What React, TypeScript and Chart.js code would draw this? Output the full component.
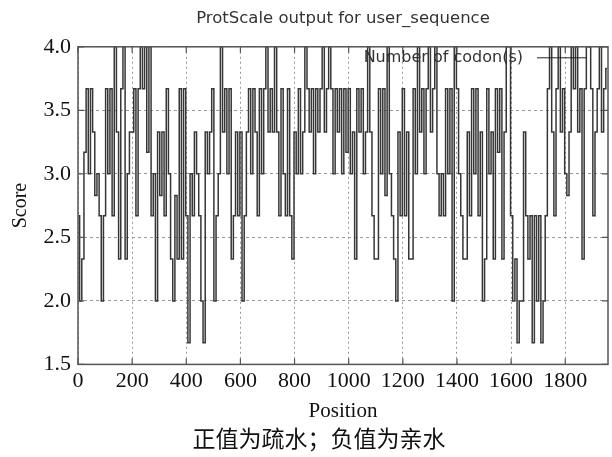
import { useEffect, useRef } from 'react';
import { Chart, registerables } from 'chart.js';

Chart.register(...registerables);

// Sequence positions are sampled every SAMPLE_STEP residues
const SAMPLE_STEP = 8;
const SEQ_LENGTH = 1958;

// Scores (window average of codon counts)
const scores: number[] = [
  2.67, 2.0, 2.33, 3.17, 3.67, 3.0, 3.67, 3.33, 2.83, 3.0,
  2.67, 2.0, 2.67, 3.67, 3.0, 3.67, 2.67, 4.0, 3.33, 2.33,
  3.67, 4.0, 2.33, 3.0, 3.33, 3.33, 3.67, 2.67, 3.67, 4.0,
  3.67, 4.0, 3.17, 4.0, 2.67, 3.0, 2.0, 3.33, 2.83, 3.33,
  2.67, 3.67, 3.0, 2.33, 2.0, 2.83, 2.33, 3.67, 2.33, 3.67,
  2.67, 1.67, 3.0, 2.67, 3.33, 3.0, 2.67, 2.0, 1.67, 3.33,
  3.0, 3.33, 3.67, 2.0, 2.67, 3.0, 4.0, 3.33, 3.67, 3.0,
  3.67, 2.33, 2.67, 3.33, 2.67, 3.33, 2.0, 2.67, 3.33, 3.67,
  3.0, 3.67, 3.33, 2.67, 3.67, 3.0, 3.67, 4.0, 3.33, 3.67,
  3.33, 4.0, 3.33, 2.67, 3.67, 3.0, 2.67, 3.67, 2.67, 2.33,
  3.33, 3.0, 3.67, 3.0, 3.33, 4.0, 3.67, 3.33, 3.67, 3.0,
  3.67, 3.33, 3.67, 4.0, 3.33, 3.67, 4.0, 3.67, 3.0, 3.67,
  3.33, 3.67, 3.0, 3.67, 3.17, 3.67, 3.0, 3.33, 2.33, 3.67,
  3.33, 3.67, 3.0, 3.33, 4.0, 3.33, 2.67, 2.33, 2.33, 3.67,
  3.0, 3.67, 2.83, 4.0, 3.0, 2.67, 2.33, 2.0, 3.33, 2.67,
  3.67, 2.67, 3.33, 2.33, 2.33, 3.67, 3.0, 4.0, 3.33, 3.67,
  3.0, 3.67, 4.0, 3.33, 3.67, 4.0, 3.0, 2.67, 3.0, 2.67,
  3.67, 3.0, 3.67, 2.0, 4.0, 3.67, 3.0, 2.67, 2.33, 2.33,
  3.33, 2.67, 3.67, 3.0, 3.67, 2.67, 3.33, 2.0, 2.33, 3.67,
  3.0, 3.33, 2.33, 3.67, 3.17, 3.67, 2.33, 3.33, 4.0, 4.0,
  2.67, 2.0, 2.33, 1.67, 2.0, 2.0, 3.33, 2.67, 2.33, 2.67,
  1.67, 2.67, 2.0, 2.67, 1.67, 2.0, 2.67, 3.67, 4.0, 3.33,
  2.67, 3.67, 4.0, 3.33, 3.67, 3.0, 2.83, 3.33, 4.0, 3.67,
  4.0, 3.33, 3.67, 2.33, 3.67, 4.0, 4.0, 3.67, 2.67, 3.33,
  3.67, 4.0, 3.33, 3.67, 3.83,
];

const positions: number[] = scores.map((_, i) => 2 + i * SAMPLE_STEP);

const TITLE = 'ProtScale output for user_sequence';
const SERIES_LABEL = 'Number of codon(s)';
const X_TITLE = 'Position';
const Y_TITLE = 'Score';
const CAPTION = '正值为疏水；负值为亲水';

const X_MIN = 0;
const X_STEP = 200;
const Y_MIN = 1.5;
const Y_MAX = 4.0;
const Y_STEP = 0.5;

const SERIF = "'Liberation Serif', 'DejaVu Serif', serif";
const SANS = "'DejaVu Sans', sans-serif";
const CJK = "'Noto Sans CJK SC', sans-serif";

const framePlugin = {
  id: 'gnuplotFrame',
  afterDraw(chart: any) {
    const { ctx, chartArea } = chart;
    const { left, right, top, bottom } = chartArea;
    const xs = chart.scales.x;
    const ys = chart.scales.y;
    ctx.save();
    ctx.strokeStyle = '#555';
    ctx.lineWidth = 1.5;
    ctx.setLineDash([]);
    ctx.strokeRect(left, top, right - left, bottom - top);
    ctx.lineWidth = 1.2;
    const tl = 6;
    xs.ticks.forEach((t: any) => {
      const px = xs.getPixelForValue(t.value);
      ctx.beginPath();
      ctx.moveTo(px, bottom);
      ctx.lineTo(px, bottom - tl);
      ctx.moveTo(px, top);
      ctx.lineTo(px, top + tl);
      ctx.stroke();
    });
    ys.ticks.forEach((t: any) => {
      const py = ys.getPixelForValue(t.value);
      ctx.beginPath();
      ctx.moveTo(left, py);
      ctx.lineTo(left + tl, py);
      ctx.moveTo(right, py);
      ctx.lineTo(right - tl, py);
      ctx.stroke();
    });
    // key (gnuplot style: text then line sample)
    const label = chart.data.datasets[0].label;
    ctx.font = `16px ${SANS}`;
    ctx.fillStyle = '#333';
    ctx.textAlign = 'right';
    ctx.textBaseline = 'middle';
    ctx.fillText(label, right - 85, top + 11);
    ctx.strokeStyle = '#222';
    ctx.lineWidth = 1;
    ctx.beginPath();
    ctx.moveTo(right - 71, top + 11);
    ctx.lineTo(right - 21, top + 11);
    ctx.stroke();
    // caption under the figure
    ctx.font = `23px ${CJK}`;
    ctx.fillStyle = '#111';
    ctx.textAlign = 'center';
    ctx.textBaseline = 'middle';
    ctx.fillText(CAPTION, (left + right) / 2 - 24, chart.height - 19);
    ctx.restore();
  },
};

export default function App() {
  const ref = useRef<HTMLCanvasElement | null>(null);

  useEffect(() => {
    if (!ref.current) return;
    const chart = new Chart(ref.current, {
      type: 'line',
      data: {
        datasets: [
          {
            label: SERIES_LABEL,
            data: positions.map((x, i) => ({ x, y: scores[i] })),
            borderColor: '#363636',
            borderWidth: 1.5,
            pointRadius: 0,
            stepped: 'middle',
            fill: false,
          },
        ],
      },
      options: {
        animation: false,
        responsive: false,
        maintainAspectRatio: false,
        layout: { padding: { left: 0, right: 4, top: 0, bottom: 33 } },
        plugins: {
          legend: { display: false },
          tooltip: { enabled: false },
          title: {
            display: true,
            text: TITLE,
            fullSize: false,
            color: '#333',
            font: { family: SANS, size: 16.5, weight: 'normal' },
            padding: { top: 9, bottom: 18 },
          },
        },
        scales: {
          x: {
            type: 'linear',
            min: X_MIN,
            max: SEQ_LENGTH,
            ticks: {
              stepSize: X_STEP,
              includeBounds: false,
              autoSkip: false,
              maxRotation: 0,
              color: '#111',
              padding: 4,
              font: { family: SERIF, size: 22 },
              callback: (v: any) => String(v),
            },
            grid: { color: '#999', lineWidth: 1, drawTicks: false },
            border: { display: false, dash: [2, 3] },
            title: {
              display: true,
              text: X_TITLE,
              color: '#111',
              font: { family: SERIF, size: 21 },
              padding: { top: 0, bottom: 0 },
            },
          },
          y: {
            min: Y_MIN,
            max: Y_MAX,
            afterFit: (s: any) => {
              s.width = 78;
            },
            ticks: {
              stepSize: Y_STEP,
              color: '#111',
              padding: 7,
              font: { family: SERIF, size: 22 },
              callback: (v: any) => Number(v).toFixed(1),
            },
            grid: { color: '#999', lineWidth: 1, drawTicks: false },
            border: { display: false, dash: [3, 3] },
            title: {
              display: true,
              text: Y_TITLE,
              color: '#111',
              font: { family: SERIF, size: 20 },
              padding: { top: 9, bottom: 0 },
            },
          },
        },
      },
      plugins: [framePlugin],
    });
    return () => chart.destroy();
  }, []);

  return (
    <div style={{ position: 'fixed', left: 0, top: 0, width: 612, height: 457, background: '#fff' }}>
      <canvas ref={ref} width={612} height={457} style={{ width: 612, height: 457, display: 'block' }} />
    </div>
  );
}
